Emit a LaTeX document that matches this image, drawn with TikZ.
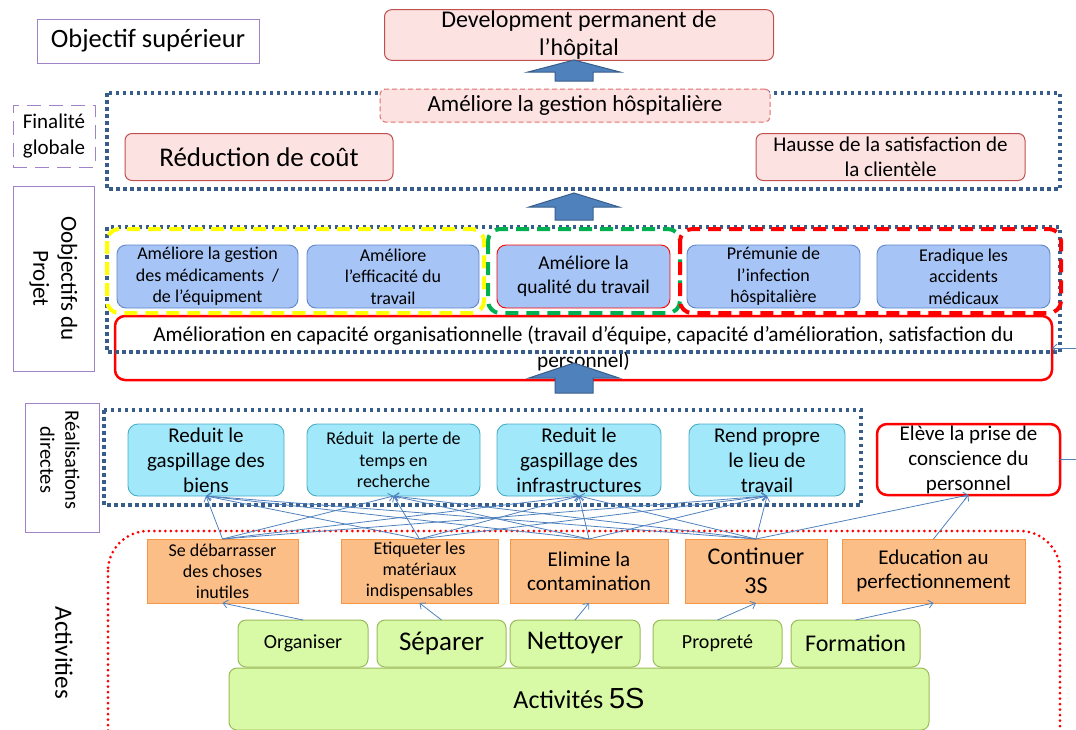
\documentclass[tikz,border=0pt]{standalone}
\usepackage{fontspec}
\setmainfont{Carlito}
\newfontfamily\arialf{Liberation Sans}
\usetikzlibrary{arrows.meta}
\definecolor{pinkfill}{RGB}{253,226,226}
\definecolor{pinkdraw}{RGB}{192,80,77}
\definecolor{pinkdash}{RGB}{225,110,110}
\definecolor{purp}{RGB}{160,130,200}
\definecolor{dotblue}{RGB}{56,93,138}
\definecolor{arrfill}{RGB}{79,129,189}
\definecolor{arrdraw}{RGB}{56,93,138}
\definecolor{bluefill}{RGB}{166,196,245}
\definecolor{bluedraw}{RGB}{95,135,200}
\definecolor{cyanfill}{RGB}{160,232,250}
\definecolor{cyandraw}{RGB}{75,172,198}
\definecolor{orfill}{RGB}{251,190,135}
\definecolor{ordraw}{RGB}{247,150,70}
\definecolor{grfill}{RGB}{216,250,166}
\definecolor{grdraw}{RGB}{155,187,89}
\definecolor{connblue}{RGB}{79,129,189}
\definecolor{yel}{RGB}{255,255,0}
\definecolor{grn}{RGB}{0,176,80}
\definecolor{redA}{RGB}{255,0,0}
\newcommand{\myfs}[2]{\fontsize{#1}{#2}\selectfont}
\begin{document}
\begin{tikzpicture}[x=1pt,y=-1pt,
  lbl/.style={draw=purp, line width=0.9pt, inner sep=0pt, outer sep=0pt},
  boxbase/.style={align=center, inner sep=1pt, outer sep=0pt},
  pinkbox/.style={boxbase, draw=pinkdraw, fill=pinkfill, line width=1pt, rounded corners=7pt},
  bluebox/.style={boxbase, draw=bluedraw, fill=bluefill, line width=0.9pt, rounded corners=9pt, font=\myfs{18}{21.5}},
  cyanbox/.style={boxbase, draw=cyandraw, fill=cyanfill, line width=0.9pt, rounded corners=10pt, minimum height=72pt},
  redbox/.style={boxbase, draw=redA, fill=white, line width=2.5pt, rounded corners=10pt},
  orbox/.style={boxbase, draw=ordraw, fill=orfill, line width=1pt, minimum height=64pt},
  grbox/.style={boxbase, draw=grdraw, fill=grfill, line width=1pt, rounded corners=8pt, minimum height=47pt},
  bluedots/.style={draw=dotblue, line width=3.5pt, dash pattern=on 3.5pt off 3.5pt},
  reddots/.style={draw=redA, line width=3pt, line cap=round, dash pattern=on 0pt off 5.5pt},
  colordash/.style={line width=4pt, dash pattern=on 13pt off 8pt, rounded corners=12pt},
  barrow/.style={fill=arrfill, draw=arrdraw, line width=1pt, line join=miter},
  conn/.style={draw=connblue, line width=0.8pt, -{Straight Barb[length=4.5pt,width=8pt]}},
  plain/.style={draw=connblue, line width=0.8pt}
]
\useasboundingbox (0,0) rectangle (1076,729);
\clip (0,0) rectangle (1076,729);

% ---------- top level ----------
\node[lbl, minimum width=222pt, minimum height=44pt, font=\myfs{26.5}{30}] (objsup) at (148,41) {Objectif supérieur};
\node[pinkbox, minimum width=389pt, minimum height=46pt, font=\myfs{24}{28}] (dev) at (579,35) {Development permanent de\\l’hôpital};
\draw[barrow] (555,81) -- (555,72) -- (528,72) -- (574,60) -- (620,72) -- (593,72) -- (593,81) -- cycle;

% ---------- finalite ----------
\draw[bluedots] (107,93) rectangle (1060,189);
\node[lbl, dash pattern=on 14pt off 8pt, minimum width=82pt, minimum height=62pt, align=center, font=\myfs{21}{26}] (fin) at (54,136) {Finalité\\globale};
\node[pinkbox, draw=pinkdash, dash pattern=on 5pt off 3pt, rounded corners=5pt, minimum width=390pt, minimum height=33pt, font=\myfs{23}{27}] (amel) at (575,105.5) {Améliore la gestion hôspitalière};
\node[pinkbox, minimum width=268pt, minimum height=47pt, font=\myfs{27}{31}] (reduc) at (259,157) {Réduction de coût};
\node[pinkbox, minimum width=269pt, minimum height=47pt, font=\myfs{21}{25}] (hausse) at (890.5,157) {Hausse de la satisfaction de\\la clientèle};
\draw[barrow] (555,220) -- (555,207) -- (529,207) -- (574,193) -- (619,207) -- (593,207) -- (593,220) -- cycle;

% ---------- objectifs du projet ----------
\node[lbl, minimum width=81pt, minimum height=185pt] (objl) at (53.5,278.5) {};
\node[rotate=-90, align=center, font=\myfs{23}{28}] (objt) at (objl.center) {Oobjectifs du\\Projet};
\node[redbox, minimum width=937pt, minimum height=64pt, font=\myfs{21.3}{26}] (org) at (583.5,348) {Amélioration en capacité organisationnelle (travail d’équipe, capacité d’amélioration, satisfaction du\\personnel)};
\draw[bluedots] (107,227) rectangle (1060,352);
\draw[colordash, draw=yel] (107,229) rectangle (484,313);
\draw[colordash, draw=grn] (488,229) rectangle (680,313);
\draw[colordash, draw=redA] (680,229) rectangle (1061,313);
\node[bluebox, minimum width=181pt, minimum height=63pt] (b1) at (207.5,276.5) {Améliore la gestion\\des médicaments~ /\\de l’équipment};
\node[bluebox, minimum width=172pt, minimum height=63pt] (b2) at (393,276.5) {Améliore\\l’efficacité du\\travail};
\node[bluebox, draw=redA, minimum width=173pt, minimum height=63pt, font=\myfs{19.5}{24}] (b3) at (583.5,276.5) {Améliore la\\qualité du travail};
\node[bluebox, minimum width=173pt, minimum height=63pt] (b4) at (773.5,276.5) {Prémunie de\\l’infection\\hôspitalière};
\node[bluebox, minimum width=173pt, minimum height=63pt] (b5) at (963.5,276.5) {Eradique les\\accidents\\médicaux};
\draw[barrow] (555,393) -- (555,378) -- (529,378) -- (574,363) -- (619,378) -- (593,378) -- (593,393) -- cycle;
\coordinate (rin) at (1076,348);
\draw[conn] (rin) -- (org.east);

% ---------- realisations directes ----------
\node[lbl, minimum width=74pt, minimum height=129pt] (reall) at (62,467.5) {};
\node[rotate=-90, align=center, font=\myfs{20.5}{25}] (realt) at (60,460) {Réalisations\\directes};
\draw[bluedots] (104,410) rectangle (861,505);
\node[cyanbox, minimum width=156pt, font=\myfs{21}{25}] (c1) at (206,460) {Reduit le\\gaspillage des\\biens};
\node[cyanbox, minimum width=173pt, font=\myfs{18}{21.5}] (c2) at (393.5,460) {Réduit~ la perte de\\temps en\\recherche};
\node[cyanbox, minimum width=164pt, font=\myfs{21}{25}] (c3) at (579,460) {Reduit le\\gaspillage des\\infrastructures};
\node[cyanbox, minimum width=156pt, font=\myfs{21}{25}] (c4) at (767,460) {Rend propre\\le lieu de\\travail};
\node[redbox, minimum width=183pt, minimum height=71pt, font=\myfs{21}{25}] (elev) at (968.5,459.5) {Elève la prise de\\conscience du\\personnel};
\coordinate (eout) at (1076,459.5);
\draw[plain] (elev.east) -- (eout);

% ---------- activities ----------
\draw[reddots, rounded corners=40pt] (108,531) rectangle (1060,770);
\node[rotate=-90, font=\myfs{25}{30}] (actl) at (64,653) {Activities};
\node[orbox, minimum width=151pt, font=\myfs{18}{21}] (o1) at (222.5,571) {Se débarrasser\\des choses\\inutiles};
\node[orbox, minimum width=157pt, font=\myfs{18}{21}] (o2) at (419.5,571) {Etiqueter les\\matériaux\\indispensables};
\node[orbox, minimum width=158pt, font=\myfs{21}{24}] (o3) at (589,571) {Elimine la\\contamination};
\node[orbox, minimum width=142pt, font=\myfs{24}{29}] (o4) at (756,571) {Continuer\\3S};
\node[orbox, minimum width=183pt, font=\myfs{21}{24}] (o5) at (933.5,571) {Education au\\perfectionnement};

\node[grbox, minimum width=700pt, minimum height=62pt, font=\myfs{26}{30}] (act5s) at (579,699) {Activités {\arialf\fontsize{29}{32}\selectfont 5S}};
\node[grbox, minimum width=130pt, font=\myfs{20}{24}] (g1) at (303,643.5) {Organiser};
\node[grbox, minimum width=129pt, font=\myfs{27}{31}] (g2) at (441.5,643.5) {Séparer};
\node[grbox, minimum width=130pt, font=\myfs{27}{31}] (g3) at (575,643.5) {Nettoyer};
\node[grbox, minimum width=129pt, font=\myfs{20}{24}] (g4) at (717.5,643.5) {Propreté};
\node[grbox, minimum width=129pt, font=\myfs{24}{28}] (g5) at (855.5,643.5) {Formation};

% ---------- connectors ----------
\foreach \o in {o1,o2,o3,o4}{
  \foreach \c in {c1,c2,c3,c4}{
    \draw[conn] (\o.north) -- (\c.south);
  }
}
\draw[conn] (o4.north) -- (elev.south);
\draw[conn] (o5.north) -- (elev.south);
\draw[conn] (g1.north) -- (o1.south);
\draw[conn] (g2.north) -- (o2.south);
\draw[conn] (g3.north) -- (o3.south);
\draw[conn] (g4.north) -- (o4.south);
\draw[conn] (g5.north) -- (o5.south);
\end{tikzpicture}
\end{document}
